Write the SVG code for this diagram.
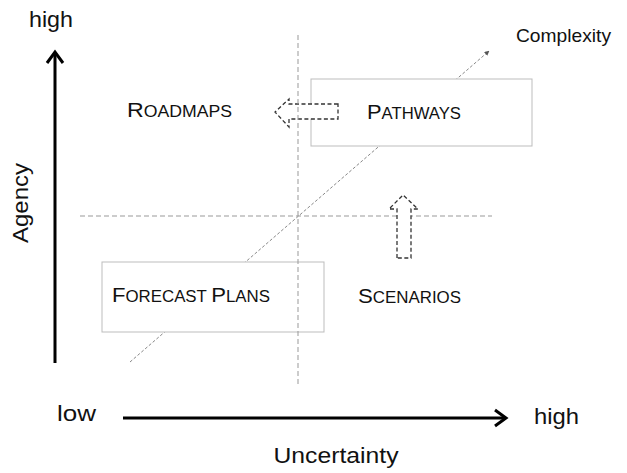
<svg xmlns="http://www.w3.org/2000/svg" width="627" height="473" viewBox="0 0 627 473">
<defs>
<style>
text{font-family:"Liberation Sans",Arial,sans-serif;fill:#111}
.ax{stroke:#000;stroke-width:3;fill:none}
.guide{stroke:#999;stroke-width:1;stroke-dasharray:5 3;fill:none}
.box{stroke:#bdbdbd;stroke-width:1;fill:#fff}
.blk{stroke:#333;stroke-width:1.3;stroke-dasharray:4 2.5;fill:#fff}
.lbl{font-size:22px}
.sc1{font-size:21px}
.sc2{font-size:16px}
</style>
<marker id="tri" viewBox="0 0 10 10" refX="9" refY="5" markerWidth="5" markerHeight="5" orient="auto" markerUnits="strokeWidth">
<path d="M0,0 L10,5 L0,10 z" fill="#555"/>
</marker>
</defs>
<rect width="627" height="473" fill="#fff"/>
<g id="connectors">
<line x1="130" y1="362" x2="489" y2="51" stroke="#888" stroke-width="1" stroke-dasharray="3 2" marker-end="url(#tri)"/>
<line class="guide" x1="80" y1="216" x2="492" y2="216"/>
</g>
<g id="axis-agency">
<line class="ax" x1="55" y1="363" x2="55" y2="53"/>
<polyline class="ax" points="47,63 55,52 63,63"/>
<text class="lbl" x="51" y="27" text-anchor="middle" textLength="44" lengthAdjust="spacingAndGlyphs">high</text>
<text class="lbl" x="0" y="0" text-anchor="middle" textLength="80" lengthAdjust="spacingAndGlyphs" transform="translate(28,203) rotate(-90)">Agency</text>
</g>
<g id="axis-uncertainty">
<line class="ax" x1="123" y1="418" x2="505" y2="418"/>
<polyline class="ax" points="495,410 506,418 495,426"/>
<text class="lbl" x="57" y="421" textLength="39" lengthAdjust="spacingAndGlyphs">low</text>
<text class="lbl" x="534" y="424" textLength="45" lengthAdjust="spacingAndGlyphs">high</text>
<text class="lbl" x="336" y="463" text-anchor="middle" textLength="125" lengthAdjust="spacingAndGlyphs">Uncertainty</text>
</g>
<g id="pathways">
<rect class="box" x="311" y="79" width="221" height="67"/>
<text x="367" y="119" textLength="94" lengthAdjust="spacingAndGlyphs"><tspan class="sc1">P</tspan><tspan class="sc2">ATHWAYS</tspan></text>
</g>
<g id="forecast-plans">
<rect class="box" x="102" y="262" width="222" height="70"/>
<text x="112" y="302" textLength="158" lengthAdjust="spacingAndGlyphs"><tspan class="sc1">F</tspan><tspan class="sc2">ORECAST </tspan><tspan class="sc1">P</tspan><tspan class="sc2">LANS</tspan></text>
</g>
<g id="roadmaps">
<text x="127" y="117" textLength="105" lengthAdjust="spacingAndGlyphs"><tspan class="sc1">R</tspan><tspan class="sc2">OADMAPS</tspan></text>
</g>
<g id="scenarios">
<text x="358" y="303" textLength="103" lengthAdjust="spacingAndGlyphs"><tspan class="sc1">S</tspan><tspan class="sc2">CENARIOS</tspan></text>
</g>
<g id="complexity">
<text x="516" y="42" font-size="19" textLength="95" lengthAdjust="spacingAndGlyphs">Complexity</text>
</g>
<g id="arrow-left">
<path class="blk" d="M338,104 L289,104 L289,99 L275,112 L289,127 L289,119 L338,119 Z"/>
</g>
<g id="arrow-up">
<path class="blk" d="M397,258 L397,209 L389,209 L403,195 L418,209 L411,209 L411,258 Z"/>
</g>
<g id="guide-vertical">
<line class="guide" x1="298" y1="35" x2="298" y2="387"/>
</g>
</svg>
